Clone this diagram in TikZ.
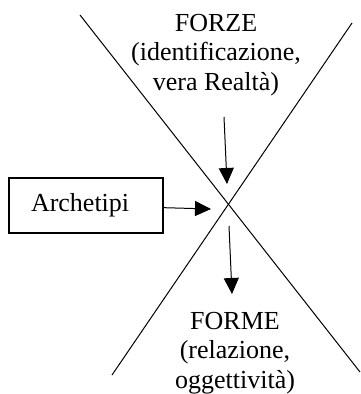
\documentclass[tikz,border=0pt]{standalone}
\usepackage{fontspec}
\setmainfont{Liberation Serif}
\usepackage{tikz}
\usetikzlibrary{arrows.meta}

\tikzset{
	testo/.style={align=center, inner sep=0pt, font=\fontsize{26pt}{29.5pt}\selectfont},
	scatola/.style={draw, line width=1.8pt, minimum height=55pt, text width=110pt, inner xsep=22pt, inner ysep=0pt, align=left, font=\fontsize{26pt}{29pt}\selectfont},
	freccia/.style={-{Triangle[length=16pt,width=15pt]}, line width=1pt}
}

\begin{document}
\begin{tikzpicture}[x=1pt,y=-1pt]
	\useasboundingbox (0,0) rectangle (361,394);
	% le due rette
	\coordinate (a1) at (80,15);
	\coordinate (a2) at (360,372);
	\coordinate (b1) at (352,23);
	\coordinate (b2) at (112,375);
	\draw[line width=1pt] (a1) -- (a2);
	\draw[line width=1pt] (b1) -- (b2);

	\node[testo] (forze) at (216,55) {FORZE\\(identificazione,\\vera Realtà)};
	\node[testo] (forme) at (235,353) {FORME\\(relazione,\\oggettività)};
	\node[scatola] (arch) at (86,205.5) {Archetipi};

	\coordinate (f1) at (224,117);
	\coordinate (f2) at (227,184);
	\coordinate (p2) at (211,209);
	\coordinate (g1) at (229,226);
	\coordinate (g2) at (232,294);
	\draw[freccia] (f1) -- (f2);
	\draw[freccia] (arch) -- (p2);
	\draw[freccia] (g1) -- (g2);
\end{tikzpicture}
\end{document}
